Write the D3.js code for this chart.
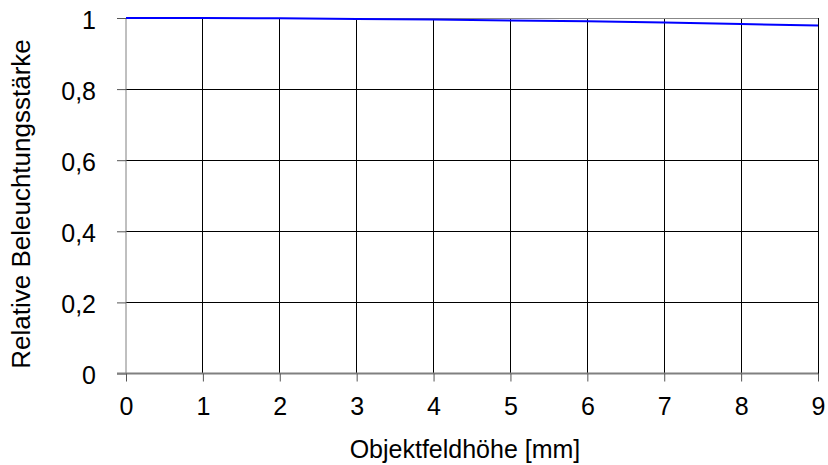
<!DOCTYPE html>
<html><head><meta charset="utf-8">
<script src="https://cdn.jsdelivr.net/npm/d3@7"></script>
<style>body{margin:0;background:#fff}svg{display:block}text{font-family:"Liberation Sans",Arial,sans-serif}</style>
</head><body>
<svg id="c" width="828" height="465"></svg>
<script>
const xValues = [0, 1, 2, 3, 4, 5, 6, 7, 8, 9];
const yValues = [1.000, 1.000, 0.999, 0.997, 0.996, 0.993, 0.991, 0.987, 0.983, 0.979];
const xTicks = [0, 1, 2, 3, 4, 5, 6, 7, 8, 9];
const yTicks = [0, 0.2, 0.4, 0.6, 0.8, 1];
const xTitle = "Objektfeldhöhe [mm]";
const yTitle = "Relative Beleuchtungsstärke";

const FS = 25;
const svg = d3.select("#c");
const m = {l:126, r:818, t:18, b:373.5};
const x = d3.scaleLinear().domain([0,9]).range([m.l, m.r]);
const y = d3.scaleLinear().domain([0,1]).range([m.b, m.t]);
const fmt = d => d === 0 ? "0" : d === 1 ? "1" : String(d).replace(".", ",");

// grid
svg.append("g").selectAll("line").data(yTicks.filter(d=>d>0 && d<1)).join("line")
  .attr("x1", m.l).attr("x2", m.r).attr("y1", d=>y(d)).attr("y2", d=>y(d))
  .attr("stroke", "#000").attr("stroke-width", 1).attr("shape-rendering","crispEdges");
svg.append("g").selectAll("line").data(xTicks.filter(d=>d>0 && d<9)).join("line")
  .attr("x1", d=>x(d)).attr("x2", d=>x(d)).attr("y1", m.t).attr("y2", m.b)
  .attr("stroke", "#000").attr("stroke-width", 1).attr("shape-rendering","crispEdges");
// border
svg.append("line").attr("x1", m.l).attr("x2", m.r).attr("y1", m.t).attr("y2", m.t).attr("stroke","#888").attr("shape-rendering","crispEdges");
svg.append("line").attr("x1", m.r).attr("x2", m.r).attr("y1", m.t).attr("y2", m.b).attr("stroke","#000").attr("shape-rendering","crispEdges");

// axes
const yAxis = d3.axisLeft(y).tickValues(yTicks).tickFormat(fmt).tickSize(9).tickPadding(21);
const gy = svg.append("g").attr("transform", `translate(${m.l},0)`).call(yAxis);
const xAxis = d3.axisBottom(x).tickValues(xTicks).tickFormat(d=>String(d)).tickSize(8).tickPadding(15.5);
const gx = svg.append("g").attr("transform", `translate(0,${m.b})`).call(xAxis);
[gx, gy].forEach(g => {
  g.attr("font-size", FS).attr("font-family", "Liberation Sans, Arial, sans-serif");
  g.select(".domain").attr("stroke", "#808080").attr("stroke-width", 2);
  g.selectAll(".tick line").attr("stroke", "#555");
  g.selectAll("text").attr("fill", "#000");
});
gy.selectAll("text").attr("dy", "0.4em");
gy.select(".domain").attr("d", `M0,${m.t}V${m.b}`).attr("stroke-width",1);
gx.select(".domain").attr("d", `M${m.l - 9},0H${m.r}`);

// line
svg.append("path").datum(xValues.map((d,i)=>[d, yValues[i]]))
  .attr("d", d3.line().x(d=>x(d[0])).y(d=>y(d[1])))
  .attr("fill","none").attr("stroke","#0000ff").attr("stroke-width",2);

// titles
svg.append("text").attr("x", 465).attr("y", 458).attr("text-anchor","middle").attr("font-size",FS).text(xTitle);
svg.append("text").attr("transform","translate(30,204) rotate(-90)").attr("text-anchor","middle").attr("font-size",FS+1).text(yTitle);
</script>
</body></html>
